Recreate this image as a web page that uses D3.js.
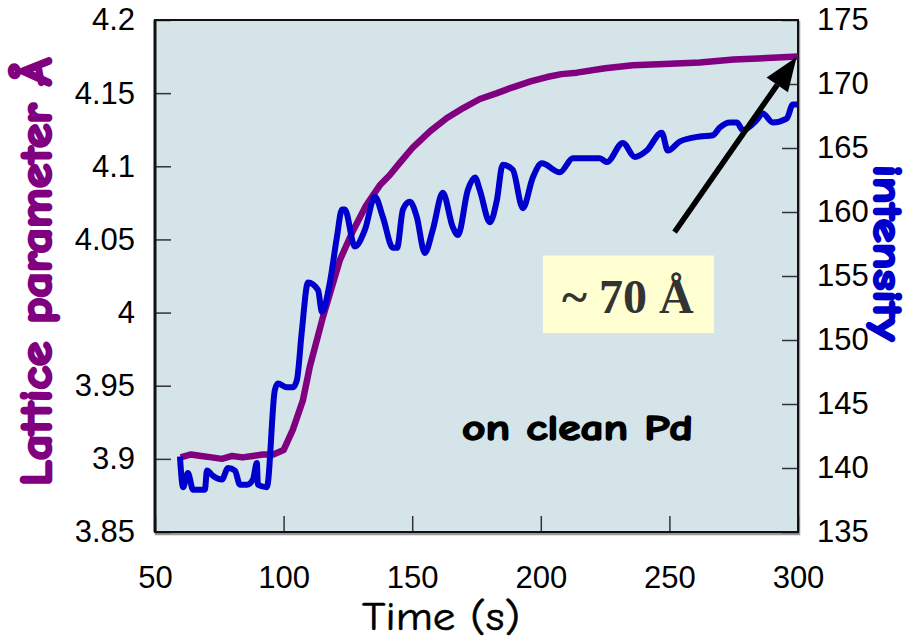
<!DOCTYPE html>
<html>
<head>
<meta charset="utf-8">
<script src="https://cdn.jsdelivr.net/npm/d3@7"></script>
<style>
  body { margin: 0; background: #fff; }
</style>
</head>
<body>
<script>

// chart size and plot box
const width = 912;
const height = 640;
const margin = {left: 155, right: 114, top: 20, bottom: 108};

// lattice parameter (left axis) vs time
const timeLattice = [60,64,68,72,76,80,84,88,92,96,100,103.6,107.5,110.2,115.3,121.9,127,132,137.4,141.3,
  145,150.3,157,163.5,170,176.3,183,189.1,196,202.4,208,214,225,235.8,248,261.8,275,287.9,300];
const lattice = [3.901,3.903,3.902,3.901,3.900,3.902,3.901,3.902,3.903,3.903,3.906,3.920,3.940,3.963,3.997,4.036,4.056,4.073,4.087,4.094,
  4.102,4.113,4.124,4.133,4.140,4.146,4.150,4.154,4.158,4.161,4.163,4.164,4.167,4.169,4.170,4.171,4.173,4.174,4.175];

// intensity (right axis) vs time
const timeIntensity = [59.7,60.9,62.8,64.8,69.4,70.2,72.5,76.0,78.4,81.1,83.0,85.8,88.1,89.6,90.0,93.5,96.6,97.8,101.3,103.6,
  105.2,107,109.5,113.4,114.9,118.0,120.7,122.7,123.8,127.7,131.6,135.5,138.6,142.5,144.1,146.4,149.1,151.8,154.9,158.0,
  161.9,165.8,167.8,171.6,174.4,176.3,180.2,182.9,185.2,189.1,193.0,196.9,200.4,207.4,212.5,222.9,225.7,231.9,236.6,241.2,
  247.0,249.4,254.0,261.8,266.9,269.6,273.5,276.2,278.5,284.0,286.3,290.2,295.6,298.0,300];
const intensity = [140.9,138.5,139.6,138.3,138.3,139.8,139.4,139.1,140.0,139.8,138.7,138.7,139.1,140.4,138.7,138.5,146.1,146.6,146.3,146.3,
  146.9,150.5,154.5,153.9,152.2,154.5,158.0,160.2,160.2,157.3,158.6,161.2,159.6,157.2,157.2,160.2,160.8,159.6,156.8,158.6,
  161.5,158.8,158.2,161.7,162.7,161.7,159.2,160.9,163.7,163.3,160.3,162.7,163.8,163.1,164.2,164.2,163.9,165.4,164.3,164.8,
  166.2,164.8,165.5,165.9,166.0,166.6,167.0,167.0,166.4,167.2,167.7,167.0,167.3,168.4,168.4];

// tick labels
const xTicks = [50,100,150,200,250,300];
const leftTicks = [3.85,3.9,3.95,4,4.05,4.1,4.15,4.2];
const rightTicks = [135,140,145,150,155,160,165,170,175];

// annotation anchors in data units [time, lattice]
const arrowFrom = [252, 4.055];
const arrowTo = [299.5, 4.1747];
const boxCorners = [[200.8, 4.039], [267.3, 3.986]];

const purple = "#800080";
const blue = "#0000cc";
const comic = "'Comic Sans MS', 'Comic Neue', 'DejaVu Sans', sans-serif";
const arial = "Arial, 'Liberation Sans', sans-serif";

const svg = d3.select("body")
  .append("svg")
  .attr("width", width)
  .attr("height", height);

const x = d3.scaleLinear().domain([50, 300]).range([margin.left, width - margin.right]);
const yL = d3.scaleLinear().domain([3.85, 4.2]).range([height - margin.bottom, margin.top]);
const yR = d3.scaleLinear().domain([135, 175]).range([height - margin.bottom, margin.top]);

const plotW = width - margin.left - margin.right;
const plotH = height - margin.top - margin.bottom;

// plot background with a small grey shadow
svg.append("rect")
  .attr("x", margin.left + 1).attr("y", margin.top + 2)
  .attr("width", plotW).attr("height", plotH)
  .attr("fill", "none").attr("stroke", "#999").attr("stroke-width", 2.5);
svg.append("rect")
  .attr("x", margin.left).attr("y", margin.top)
  .attr("width", plotW).attr("height", plotH)
  .attr("fill", "#d4e4e8");

// axes, ticks pointing inside
function styleAxis(g) {
  g.select(".domain").remove();
  g.selectAll(".tick line").attr("stroke", "#333").attr("stroke-width", 1.5);
  g.selectAll("text").attr("fill", "#000");
  g.attr("font-size", 31).attr("font-family", arial);
}

svg.append("g")
  .attr("transform", `translate(${margin.left},0)`)
  .call(d3.axisLeft(yL).tickValues(leftTicks).tickSize(-16).tickPadding(20).tickFormat(d3.format("")))
  .call(styleAxis);

svg.append("g")
  .attr("transform", `translate(${width - margin.right},0)`)
  .call(d3.axisRight(yR).tickValues(rightTicks).tickSize(-16).tickPadding(19))
  .call(styleAxis);

svg.append("g")
  .attr("transform", `translate(0,${height - margin.bottom})`)
  .call(d3.axisBottom(x).tickValues(xTicks).tickSize(-16).tickPadding(34))
  .call(styleAxis);

// frame
svg.append("rect")
  .attr("x", margin.left).attr("y", margin.top)
  .attr("width", plotW).attr("height", plotH)
  .attr("fill", "none").attr("stroke", "#111").attr("stroke-width", 2);
svg.append("line")
  .attr("x1", margin.left).attr("x2", margin.left)
  .attr("y1", margin.top).attr("y2", height - margin.bottom)
  .attr("stroke", "#111").attr("stroke-width", 3);

// curves
const latticeLine = d3.line()
  .x((d, i) => x(timeLattice[i]))
  .y(d => yL(d));

const intensityLine = d3.line()
  .x((d, i) => x(timeIntensity[i]))
  .y(d => yR(d))
  .curve(d3.curveMonotoneX);

svg.append("path")
  .attr("d", latticeLine(lattice))
  .attr("fill", "none")
  .attr("stroke", purple)
  .attr("stroke-width", 6.5)
  .attr("stroke-linejoin", "round");

svg.append("path")
  .attr("d", intensityLine(intensity))
  .attr("fill", "none")
  .attr("stroke", blue)
  .attr("stroke-width", 6)
  .attr("stroke-linejoin", "round");

// arrow pointing to the end of the lattice curve
const ax0 = x(arrowFrom[0]), ay0 = yL(arrowFrom[1]);
const ax1 = x(arrowTo[0]), ay1 = yL(arrowTo[1]);
const ang = Math.atan2(ay1 - ay0, ax1 - ax0);
const headLen = 34, headW = 13;
const bx = ax1 - headLen * Math.cos(ang), by = ay1 - headLen * Math.sin(ang);

svg.append("line")
  .attr("x1", ax0).attr("y1", ay0)
  .attr("x2", bx).attr("y2", by)
  .attr("stroke", "#000").attr("stroke-width", 5.5);

svg.append("polygon")
  .attr("points", [
    [ax1, ay1],
    [bx + headW * Math.sin(ang), by - headW * Math.cos(ang)],
    [bx - headW * Math.sin(ang), by + headW * Math.cos(ang)]
  ].map(p => p.join(",")).join(" "))
  .attr("fill", "#000");

// yellow label box
const bx0 = x(boxCorners[0][0]), by0 = yL(boxCorners[0][1]);
const bx1 = x(boxCorners[1][0]), by1 = yL(boxCorners[1][1]);
svg.append("rect")
  .attr("x", bx0).attr("y", by0)
  .attr("width", bx1 - bx0).attr("height", by1 - by0)
  .attr("fill", "#ffffd2");

svg.append("text")
  .attr("x", (bx0 + bx1) / 2 - 0.5).attr("y", 313)
  .attr("text-anchor", "middle")
  .attr("font-family", "'Times New Roman', 'Liberation Serif', serif")
  .attr("font-weight", "bold")
  .attr("font-size", 48)
  .attr("fill", "#333")
  .text("~ 70 Å");

// comic labels get a thin outline to look bold
svg.append("text")
  .attr("x", 462).attr("y", 440)
  .attr("font-family", comic)
  .attr("font-weight", "bold")
  .attr("font-size", 37)
  .attr("textLength", 231)
  .attr("lengthAdjust", "spacingAndGlyphs")
  .attr("fill", "#000")
  .attr("stroke", "#000").attr("stroke-width", 1.6)
  .text("on clean Pd");

// axis titles
svg.append("text")
  .attr("x", 362).attr("y", 630)
  .attr("font-family", comic)
  .attr("font-size", 40)
  .attr("textLength", 158)
  .attr("lengthAdjust", "spacingAndGlyphs")
  .attr("fill", "#000")
  .attr("stroke", "#000").attr("stroke-width", 0.6)
  .text("Time (s)");

svg.append("text")
  .attr("transform", "translate(51,272) rotate(-90)")
  .attr("text-anchor", "middle")
  .attr("font-family", comic)
  .attr("font-weight", "bold")
  .attr("font-size", 44)
  .attr("textLength", 428)
  .attr("lengthAdjust", "spacingAndGlyphs")
  .attr("fill", purple)
  .attr("stroke", purple).attr("stroke-width", 2.6)
  .text("Lattice parameter Å");

svg.append("text")
  .attr("transform", "translate(874,253) rotate(90)")
  .attr("text-anchor", "middle")
  .attr("font-family", comic)
  .attr("font-weight", "bold")
  .attr("font-size", 40)
  .attr("textLength", 176)
  .attr("lengthAdjust", "spacingAndGlyphs")
  .attr("fill", blue)
  .attr("stroke", blue).attr("stroke-width", 2.4)
  .text("intensity");

</script>
</body>
</html>
